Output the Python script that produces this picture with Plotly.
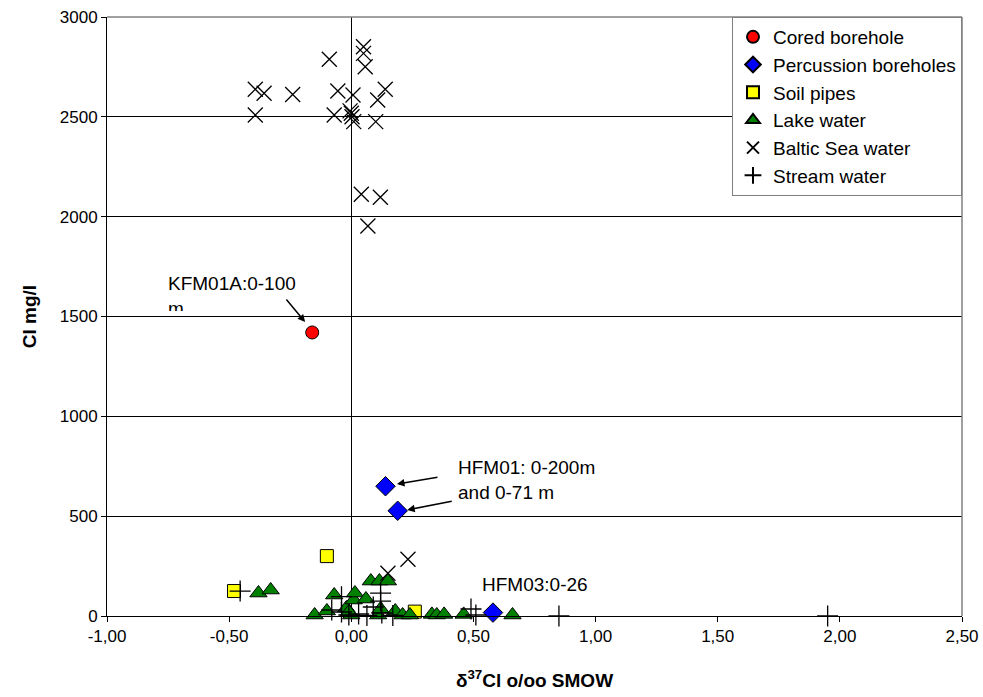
import plotly.graph_objects as go

# δ37Cl (‰ SMOW) and chloride (mg/l) per sample group
cored_x = [-0.16]
cored_y = [1420]

perc_x = [0.14, 0.19, 0.58]
perc_y = [650, 527, 17]

soil_x = [-0.48, -0.10, 0.26]
soil_y = [125, 300, 22]

lake_x = [-0.38, -0.33, -0.15, -0.10, -0.07, -0.02, 0.00, 0.01, 0.015, 0.06,
          0.08, 0.115, 0.15, 0.11, 0.18, 0.21, 0.24, 0.33, 0.35, 0.38,
          0.46, 0.66, -0.01, 0.12]
lake_y = [115, 130, 5, 25, 105, 40, 5, 80, 115, 85,
          175, 175, 175, 5, 25, 5, 5, 8, 5, 8,
          8, 5, 20, 35]

baltic_x = [0.05, 0.05, 0.057, -0.09, -0.393, -0.357, -0.24, -0.055, 0.007, 0.139,
            0.108, -0.393, -0.07, 0.0, 0.003, 0.01, 0.10, -0.005, 0.041, 0.119,
            0.068, 0.232, 0.15]
baltic_y = [2851, 2818, 2751, 2788, 2638, 2618, 2612, 2629, 2609, 2638,
            2584, 2509, 2509, 2518, 2500, 2476, 2476, 2530, 2112, 2097,
            1953, 284, 214]

stream_x = [-0.455, -0.08, -0.04, -0.04, -0.01, 0.03, 0.064, 0.09, 0.12, 0.12,
            0.125, 0.17, 0.49, 0.51, 0.85, 1.95]
stream_y = [125, 30, 97, 20, 5, 10, 3, 45, 115, 75,
            15, 3, 35, 5, 0, 0]

x_ticks = [-1.0, -0.5, 0.0, 0.5, 1.0, 1.5, 2.0, 2.5]
x_tick_text = ["-1,00", "-0,50", "0,00", "0,50", "1,00", "1,50", "2,00", "2,50"]
y_ticks = [0, 500, 1000, 1500, 2000, 2500, 3000]

FONT = "Liberation Sans, Arial, sans-serif"
TXT = dict(family=FONT, size=19, color="black")

fig = go.Figure()

def add(name, xs, ys, symbol, color, size, line_color="black", line_width=1):
    fig.add_trace(go.Scatter(
        x=xs, y=ys, mode="markers", name=name, legendgroup=name,
        cliponaxis=False,
        marker=dict(symbol=symbol, color=color, size=size,
                    line=dict(color=line_color, width=line_width)),
    ))

add("Cored borehole", cored_x, cored_y, "circle", "#ff0000", 13)
add("Percussion boreholes", perc_x, perc_y, "diamond", "#0000ff", 15)
add("Soil pipes", soil_x, soil_y, "square", "#ffff00", 13)
add("Lake water", lake_x, lake_y, "triangle-up", "#008000", 15)
add("Baltic Sea water", baltic_x, baltic_y, "x-thin", "black", 15, "black", 1.3)
add("Stream water", stream_x, stream_y, "cross-thin", "black", 15, "black", 1.3)

# label for the cored borehole; the box height cuts off the wrapped "m"
fig.add_annotation(x=-0.754, y=1723, text="KFM01A:0-100<br>m", showarrow=False,
                   xanchor="left", yanchor="top", align="left", valign="top",
                   height=38, borderpad=0, font=TXT)
fig.add_annotation(x=-0.189, y=1472, ax=-20, ay=-24, text="", showarrow=True,
                   arrowhead=2, arrowsize=1, arrowwidth=1.5, arrowcolor="black")

fig.add_annotation(x=0.434, y=801, text="HFM01: 0-200m<br>and 0-71 m", showarrow=False,
                   xanchor="left", yanchor="top", align="left", borderpad=0, font=TXT)
fig.add_annotation(x=0.187, y=661, ax=42, ay=-7, text="", showarrow=True,
                   arrowhead=2, arrowsize=1, arrowwidth=1.5, arrowcolor="black")
fig.add_annotation(x=0.229, y=531, ax=46, ay=-9, text="", showarrow=True,
                   arrowhead=2, arrowsize=1, arrowwidth=1.5, arrowcolor="black")

fig.add_annotation(x=0.525, y=160, text="HFM03:0-26", showarrow=False,
                   xanchor="left", yanchor="middle", font=TXT)

# gray frame on top and right of the plotting area
fig.add_shape(type="line", xref="paper", yref="paper", x0=0, x1=1, y0=1, y1=1,
              line=dict(color="#808080", width=1.5))
fig.add_shape(type="line", xref="paper", yref="paper", x0=1, x1=1, y0=0, y1=1,
              line=dict(color="#808080", width=1.5))

fig.update_layout(
    width=983, height=697,
    margin=dict(l=107, r=21, t=17, b=81, autoexpand=False),
    paper_bgcolor="white", plot_bgcolor="white",
    font=dict(family=FONT, size=17, color="black"),
    showlegend=True,
    legend=dict(x=1.0, y=1.0, xanchor="right", yanchor="top",
                bgcolor="white", bordercolor="#808080", borderwidth=1,
                font=TXT, itemwidth=30,
                tracegroupgap=0, itemsizing="constant"),
    xaxis=dict(range=[-1.0, 2.5], tickvals=x_ticks, ticktext=x_tick_text,
               showgrid=False, zeroline=True, zerolinecolor="black", zerolinewidth=1,
               showline=True, linecolor="black", linewidth=1,
               ticks="outside", ticklen=5, tickcolor="black",
               tickfont=dict(family=FONT, size=17),
               title=dict(text="<b>δ<sup>37</sup>Cl o/oo SMOW</b>",
                          font=dict(family=FONT, size=19), standoff=28)),
    yaxis=dict(range=[0, 3000], tickvals=y_ticks, ticktext=[str(v) for v in y_ticks],
               showgrid=True, gridcolor="black", gridwidth=1, zeroline=False,
               showline=True, linecolor="black", linewidth=1,
               ticks="outside", ticklen=5, tickcolor="black",
               tickfont=dict(family=FONT, size=17),
               title=dict(text="<b>Cl mg/l</b>", font=dict(family=FONT, size=19),
                          standoff=18)),
)

fig.write_html("out.html")
